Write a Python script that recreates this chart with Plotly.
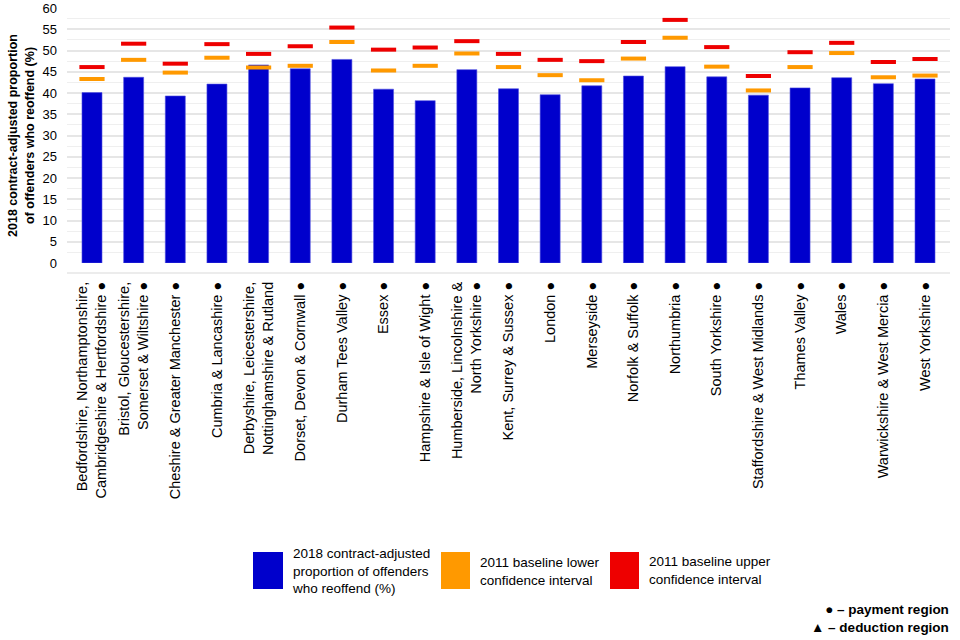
import plotly.graph_objects as go

categories = [
    "Bedfordshire, Northamptonshire,<br>Cambridgeshire & Hertfordshire ●",
    "Bristol, Gloucestershire,<br>Somerset & Wiltshire ●",
    "Cheshire & Greater Manchester ●",
    "Cumbria & Lancashire ●",
    "Derbyshire, Leicestershire,<br>Nottinghamshire & Rutland",
    "Dorset, Devon & Cornwall ●",
    "Durham Tees Valley ●",
    "Essex ●",
    "Hampshire & Isle of Wight ●",
    "Humberside, Lincolnshire &<br>North Yorkshire ●",
    "Kent, Surrey & Sussex ●",
    "London ●",
    "Merseyside ●",
    "Norfolk & Suffolk ●",
    "Northumbria ●",
    "South Yorkshire ●",
    "Staffordshire & West Midlands ●",
    "Thames Valley ●",
    "Wales ●",
    "Warwickshire & West Mercia ●",
    "West Yorkshire ●",
]
reoffend_2018 = [40.1, 43.7, 39.3, 42.1, 46.6, 45.7, 47.9, 40.9, 38.2, 45.5, 41.0,
                 39.6, 41.7, 44.0, 46.2, 43.8, 39.5, 41.2, 43.6, 42.2, 43.3]
baseline_lower = [43.3, 47.8, 44.8, 48.3, 46.0, 46.4, 52.0, 45.3, 46.4, 49.3, 46.1,
                  44.2, 43.0, 48.1, 53.0, 46.2, 40.6, 46.1, 49.4, 43.7, 44.1]
baseline_upper = [46.1, 51.6, 46.9, 51.5, 49.2, 51.0, 55.4, 50.2, 50.7, 52.2, 49.2,
                  47.8, 47.5, 52.0, 57.2, 50.8, 44.0, 49.6, 51.8, 47.3, 48.0]

legend_texts = [
    "2018 contract-adjusted<br>proportion of offenders<br>who reoffend (%)",
    "2011 baseline lower<br>confidence interval",
    "2011 baseline upper<br>confidence interval",
]
footnote_text = "<b>● – payment region<br>▲ – deduction region</b>"

BLUE = "#0000CC"
ORANGE = "#FF9900"
RED = "#EE0000"
FONT = "Liberation Sans, Arial, sans-serif"

W, H = 960, 640
L, R, T, B = 67, 10, 8, 377
PW, PH = W - L - R, H - T - B


def px(x):
    return (x - L) / PW


def py(y):
    return (H - B - y) / PH


idx = list(range(len(categories)))

fig = go.Figure()
fig.add_trace(go.Bar(x=idx, y=reoffend_2018, width=0.48,
                     marker=dict(color=BLUE, line=dict(color="#5050E0", width=0.6)),
                     showlegend=False, hoverinfo="y"))
fig.add_trace(go.Scatter(x=idx, y=baseline_lower, mode="markers",
                         marker=dict(symbol="line-ew", size=18,
                                     line=dict(color=ORANGE, width=4)),
                         showlegend=False))
fig.add_trace(go.Scatter(x=idx, y=baseline_upper, mode="markers",
                         marker=dict(symbol="line-ew", size=18,
                                     line=dict(color=RED, width=4)),
                         showlegend=False))

shapes = []
# light line below the zero baseline
shapes.append(dict(type="line", xref="paper", yref="paper", x0=0, x1=1,
                   y0=py(273), y1=py(273), line=dict(color="#E6E6E6", width=1.5)))
# legend swatches
for (x0, x1, col) in [(253, 283, BLUE), (441, 470, ORANGE), (610, 639, RED)]:
    shapes.append(dict(type="rect", xref="paper", yref="paper",
                       x0=px(x0), x1=px(x1), y0=py(589), y1=py(552),
                       fillcolor=col, line=dict(width=0)))

annotations = []
legend_pos = [(290, 571), (478, 571), (647, 570)]
for (tx, ty), txt in zip(legend_pos, legend_texts):
    annotations.append(dict(xref="paper", yref="paper", x=px(tx), y=py(ty),
                            text=txt, showarrow=False, xanchor="left",
                            yanchor="middle", align="left",
                            font=dict(family=FONT, size=13.5, color="#000")))
annotations.append(dict(xref="paper", yref="paper", x=px(951), y=py(618),
                        text=footnote_text, showarrow=False, align="right",
                        xanchor="right", yanchor="middle",
                        font=dict(family=FONT, size=13.5, color="#000")))

fig.update_layout(
    width=W, height=H,
    margin=dict(l=L, r=R, t=T, b=B, pad=0, autoexpand=False),
    paper_bgcolor="white", plot_bgcolor="white",
    font=dict(family=FONT, color="#000"),
    shapes=shapes, annotations=annotations,
    showlegend=False,
)
fig.update_xaxes(range=[-0.6, 20.6], tickmode="array", tickvals=idx,
                 ticktext=categories, tickangle=-90, showgrid=False,
                 zeroline=False, showline=False, ticks="outside", ticklen=12,
                 tickcolor="rgba(0,0,0,0)", automargin=False,
                 tickfont=dict(family=FONT, size=14.5, color="#000"))
fig.update_yaxes(range=[0, 60], dtick=5, showgrid=True, gridcolor="#E6E6E6",
                 gridwidth=1.5, zeroline=False, showline=False, ticks="",
                 automargin=False, ticklabelstandoff=9,
                 minor=dict(dtick=2.5, showgrid=True, gridcolor="#EFEFEF", gridwidth=1),
                 tickfont=dict(family=FONT, size=13, color="#000"),
                 title=dict(text="<b>2018 contract-adjusted proportion<br>of offenders who reoffend (%)</b>",
                            font=dict(family=FONT, size=12.5, color="#000"), standoff=5))

fig.write_html("out.html", config={"displayModeBar": False},
               post_script="document.body.style.margin='0';document.body.style.padding='0';")
